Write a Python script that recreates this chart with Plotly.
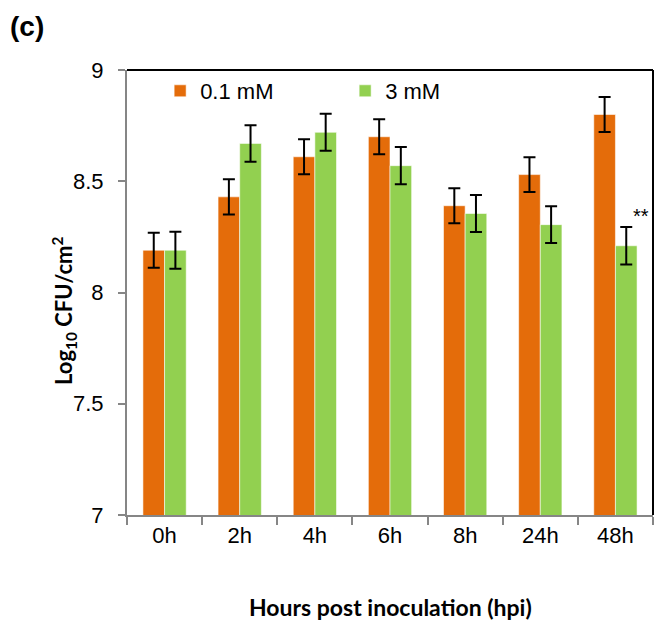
import plotly.graph_objects as go

categories = ["0h", "2h", "4h", "6h", "8h", "24h", "48h"]
low_mM = [8.19, 8.43, 8.61, 8.70, 8.39, 8.53, 8.80]
low_err = [0.079, 0.079, 0.079, 0.079, 0.079, 0.078, 0.079]
high_mM = [8.19, 8.67, 8.72, 8.57, 8.355, 8.305, 8.21]
high_err = [0.083, 0.082, 0.083, 0.084, 0.083, 0.083, 0.084]
series_names = ["0.1 mM", "3 mM"]
y_ticks = [7, 7.5, 8, 8.5, 9]

ORANGE = "#E46C0A"
GREEN = "#92D050"
AX_GRAY = "#868686"
FONT = "Liberation Sans, Arial, sans-serif"
BOLD_FONT = "Lato, Carlito, Calibri, sans-serif"

fig = go.Figure()
for name, vals, errs, col in [(series_names[0], low_mM, low_err, ORANGE),
                              (series_names[1], high_mM, high_err, GREEN)]:
    fig.add_trace(go.Bar(
        x=categories, y=vals, name=name,
        marker=dict(color=col, line=dict(color="rgba(255,255,255,0.55)", width=1)),
        error_y=dict(type="data", array=errs, visible=True, color="black",
                     thickness=2, width=6),
    ))

fig.update_layout(
    width=654, height=620,
    margin=dict(l=127, r=1, t=70, b=105),
    paper_bgcolor="white", plot_bgcolor="white",
    barmode="group", bargap=0.424, bargroupgap=0,
    font=dict(family=FONT, size=22, color="black"),
    showlegend=True,
    legend=dict(orientation="h", x=0.063, y=1.0, xanchor="left", yanchor="top",
                bgcolor="rgba(0,0,0,0)", font=dict(size=22, family=FONT),
                entrywidth=140, entrywidthmode="pixels", itemwidth=30,
                tracegroupgap=0),
    xaxis=dict(type="category", showline=True, linecolor=AX_GRAY, linewidth=2,
               ticks="outside", tickson="boundaries", ticklen=8, tickcolor=AX_GRAY,
               tickwidth=2, showgrid=False, tickfont=dict(size=22, family=FONT),
               zeroline=False),
    yaxis=dict(range=[7, 9], tickvals=y_ticks, ticktext=[str(v) if v % 1 else str(int(v)) for v in y_ticks],
               showline=True, linecolor=AX_GRAY, linewidth=2,
               ticks="outside", ticklen=7, tickcolor=AX_GRAY, tickwidth=2,
               showgrid=False, zeroline=False, ticklabelstandoff=10,
               tickfont=dict(size=22, family=FONT)),
    shapes=[
        dict(type="line", xref="paper", yref="paper", x0=0, x1=1, y0=1, y1=1,
             line=dict(color="black", width=2)),
        dict(type="line", xref="paper", yref="paper", x0=1, x1=1, y0=0, y1=1,
             line=dict(color="black", width=2)),
    ],
    annotations=[
        dict(text="<b>(c)</b>", xref="paper", yref="paper",
             x=(27 - 127) / 526, y=(515 - 27) / 445, xanchor="center", yanchor="middle",
             showarrow=False, font=dict(size=28, family=FONT)),
        dict(text="<b>Log<sub>10</sub> CFU/cm<sup>2</sup></b>", xref="paper", yref="paper",
             x=(64 - 127) / 526, y=(515 - 311) / 445, xanchor="center", yanchor="middle",
             textangle=-90, showarrow=False, font=dict(size=22, family=BOLD_FONT)),
        dict(text="<b>Hours post inoculation (hpi)</b>", xref="paper", yref="paper",
             x=0.5, y=(515 - 607) / 445, xanchor="center", yanchor="middle",
             showarrow=False, font=dict(size=23, family=BOLD_FONT)),
        dict(text="**", x="48h", y=8.345, xref="x", yref="y", xshift=26,
             xanchor="center", yanchor="middle", showarrow=False,
             font=dict(size=20, family=FONT)),
    ],
)

fig.write_html("out.html")
